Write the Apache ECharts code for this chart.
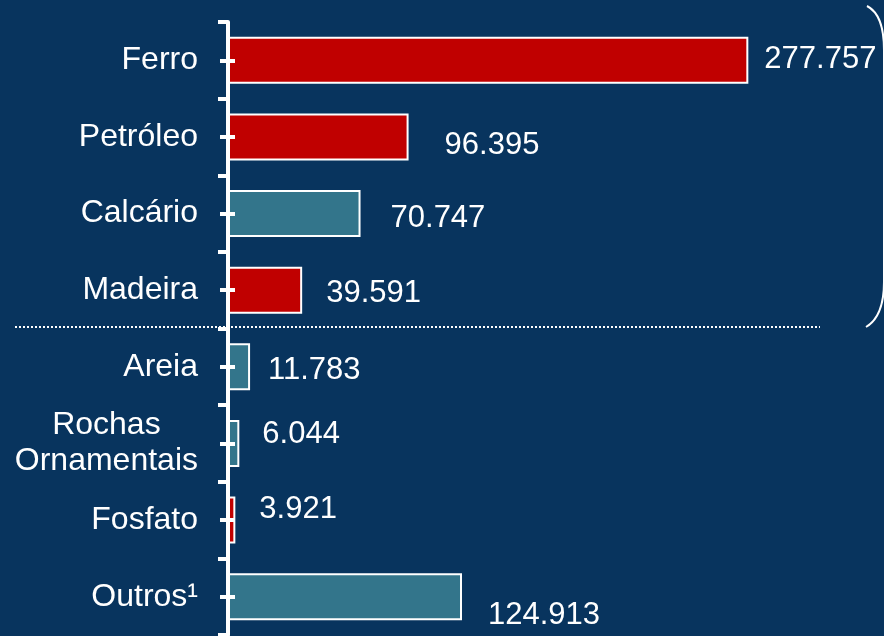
<!DOCTYPE html>
<html>
<head>
<meta charset="utf-8">
<title>Produção por produto</title>
<script src="https://cdn.jsdelivr.net/npm/echarts@6/dist/echarts.min.js"></script>
<style>
html, body { margin: 0; padding: 0; background: #08345e; }
#main { width: 884px; height: 636px; }
</style>
</head>
<body>
<div id="main"></div>
<script>
var categorias = ['Ferro', 'Petróleo', 'Calcário', 'Madeira', 'Areia', 'Rochas\nOrnamentais', 'Fosfato', 'Outros¹']
var valores = [277.757, 96.395, 70.747, 39.591, 11.783, 6.044, 3.921, 124.913]
var grupos = ['a', 'a', 'b', 'a', 'b', 'b', 'a', 'b']

// deslocamento [x, y] dos rótulos de valor, como no original
var deslocRotulo = [[16, -1], [36, 9], [30, 5], [24, 3], [18, 4], [23, -9], [24, -11], [26, 19]]
var corGrupo = { a: '#c00000', b: '#33758b' }
var fonte = '"Liberation Sans", Arial, sans-serif'
var larguraGrid = 562

var myChart = echarts.init(document.getElementById('main'))

var dados = valores.map(function (v, i) {
  return {
    value: v,
    itemStyle: { color: corGrupo[grupos[i]] },
    label: { offset: deslocRotulo[i] }
  }
})

function eixoY (extra) {
  var base = {
    type: 'category',
    data: categorias,
    inverse: true,
    z: 5,
    axisLine: { show: false },
    axisLabel: { show: false },
    axisTick: { show: false },
    splitLine: { show: false }
  }
  return Object.assign(base, extra)
}

myChart.setOption({
  backgroundColor: '#08345e',
  animation: false,
  grid: { left: 228, top: 22, bottom: 1, width: larguraGrid },
  xAxis: { type: 'value', min: 0, max: 300, show: false },
  yAxis: [
    eixoY({
      position: 'left',
      axisLine: { show: true, lineStyle: { color: '#ffffff', width: 4 } },
      axisTick: { show: true, length: 10, lineStyle: { color: '#ffffff', width: 4 } },
      axisLabel: {
        show: true,
        margin: 30,
        color: '#ffffff',
        fontFamily: fonte,
        fontSize: 32,
        lineHeight: 36,
        formatter: function (v) {
          return v.split('\n').map(function (l) { return '{c|' + l + '}' }).join('\n')
        },
        rich: {
          c: { align: 'center', color: '#ffffff', fontFamily: fonte, fontSize: 32, lineHeight: 36 }
        }
      }
    }),
    // os dois eixos abaixo só desenham os traços centrais, cruzando a linha
    eixoY({
      position: 'right',
      offset: -larguraGrid,
      axisTick: { show: true, alignWithLabel: true, length: 7, lineStyle: { color: '#ffffff', width: 4 } }
    }),
    eixoY({
      position: 'right',
      offset: -larguraGrid,
      axisTick: { show: true, alignWithLabel: true, inside: true, length: 8, lineStyle: { color: '#ffffff', width: 4 } }
    })
  ],
  series: [
    {
      type: 'bar',
      yAxisIndex: 0,
      data: dados,
      barWidth: 47,
      itemStyle: { borderColor: '#ffffff', borderWidth: 2 },
      label: {
        show: true,
        position: 'right',
        distance: 0,
        color: '#ffffff',
        fontFamily: fonte,
        fontSize: 31,
        formatter: function (p) { return p.value.toFixed(3) }
      },
      z: 1
    }
  ]
})

// linha pontilhada entre Madeira e Areia, e chave à direita
var yA = myChart.convertToPixel({ yAxisIndex: 0 }, 'Madeira')
var yB = myChart.convertToPixel({ yAxisIndex: 0 }, 'Areia')
var ySep = Math.round((yA + yB) / 2) - 2
var estiloChave = { fill: null, stroke: '#ffffff', lineWidth: 2 }

myChart.setOption({
  graphic: [
    {
      type: 'line',
      shape: { x1: 15, y1: ySep, x2: 820, y2: ySep },
      style: { stroke: '#ffffff', lineWidth: 2, lineDash: [2, 2] },
      z: 0
    },
    {
      type: 'bezierCurve',
      shape: { x1: 867, y1: 6, cpx1: 879, cpy1: 12, cpx2: 884, cpy2: 28, x2: 884, y2: 50 },
      style: estiloChave
    },
    {
      type: 'line',
      shape: { x1: 884, y1: 50, x2: 884, y2: 282 },
      style: estiloChave
    },
    {
      type: 'bezierCurve',
      shape: { x1: 884, y1: 282, cpx1: 884, cpy1: 306, cpx2: 878, cpy2: 320, x2: 866, y2: 327 },
      style: estiloChave
    }
  ]
})

window.onresize = myChart.resize
</script>
</body>
</html>
